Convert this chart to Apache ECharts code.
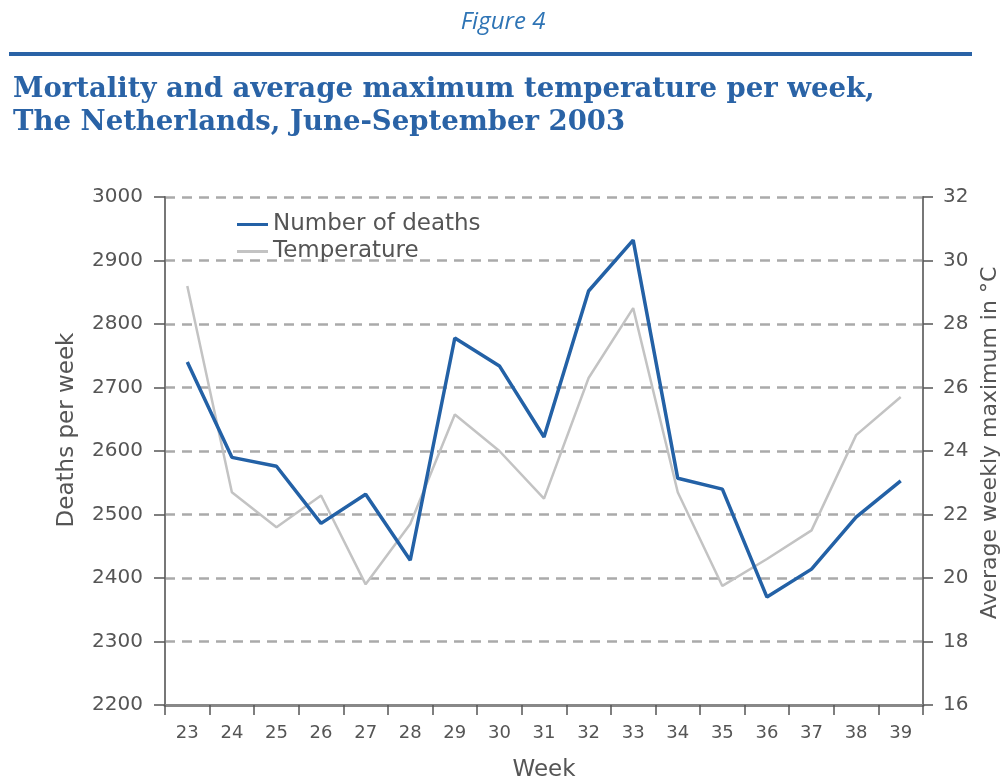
<!DOCTYPE html>
<html>
<head>
<meta charset="utf-8">
<script src="https://cdn.jsdelivr.net/npm/echarts@6/dist/echarts.min.js"></script>
<style>
html,body{margin:0;padding:0;background:#fff;}
#chart{width:1006px;height:782px;}
</style>
</head>
<body>
<div id="chart"></div>
<script>
const weeks = ['23','24','25','26','27','28','29','30','31','32','33','34','35','36','37','38','39'];
const deaths = [2740,2590,2576,2486,2532,2428,2778,2734,2622,2852,2932,2557,2540,2370,2414,2496,2553];
const temperature = [29.2,22.7,21.6,22.6,19.8,21.7,25.15,24.0,22.5,26.3,28.5,22.7,19.75,20.6,21.5,24.5,25.7];
const deathTicks = [2200,2300,2400,2500,2600,2700,2800,2900,3000];
const tempTicks = [16,18,20,22,24,26,28,30,32];

const axisFont = '"DejaVu Sans", sans-serif';
const chart = echarts.init(document.getElementById('chart'), null, {renderer:'canvas'});
chart.setOption({
  backgroundColor:'#fff',
  animation:false,
  title:[
    {text:'Figure 4', left:'center', top:5,
     textStyle:{fontFamily:'"Open Sans", sans-serif', fontStyle:'italic', fontWeight:'normal', fontSize:24, color:'#2e74b5'}},
    {text:'Mortality and average maximum temperature per week,\nThe Netherlands, June-September 2003', left:8, top:68,
     textStyle:{fontFamily:'"DejaVu Serif", serif', fontWeight:'bold', fontSize:27.5, lineHeight:33, color:'#2a63a6'}}
  ],
  graphic:[
    {type:'rect', shape:{x:9, y:52, width:963, height:4}, style:{fill:'#2a63a6'}}
  ],
  legend:{
    orient:'vertical', left:232, top:208, itemWidth:31, itemHeight:3, itemGap:4,
    icon:'rect',
    textStyle:{fontFamily:axisFont, fontSize:23, color:'#555'},
    data:[
      {name:'Number of deaths', itemStyle:{color:'#2361a6'}},
      {name:'Temperature', itemStyle:{color:'#c3c3c3'}}
    ]
  },
  grid:{left:165, right:83, top:197, bottom:77, containLabel:false, outerBoundsMode:'none'},
  xAxis:{
    type:'category', data:weeks, boundaryGap:true,
    name:'Week', nameLocation:'middle', nameGap:54,
    nameTextStyle:{fontFamily:axisFont, fontSize:23, color:'#555'},
    axisLine:{lineStyle:{color:'#888', width:3}},
    axisTick:{show:true, length:10, lineStyle:{color:'#555', width:1.5}},
    axisLabel:{fontFamily:axisFont, fontSize:18, color:'#555', margin:19}
  },
  yAxis:[
    {type:'value', min:deathTicks[0], max:deathTicks[deathTicks.length-1], interval:100,
     name:'Deaths per week', nameLocation:'middle', nameGap:86, nameRotate:90,
     nameTextStyle:{fontFamily:axisFont, fontSize:23, color:'#555', padding:[0,0,0,42]},
     axisLine:{show:true, lineStyle:{color:'#777', width:2}},
     axisTick:{show:true, length:11, lineStyle:{color:'#555', width:1.5}},
     axisLabel:{fontFamily:axisFont, fontSize:20, color:'#555', margin:22, formatter:v=>String(v)},
     splitLine:{show:true, lineStyle:{color:'#aaa', width:2.5, type:[10,7]}}
    },
    {type:'value', min:tempTicks[0], max:tempTicks[tempTicks.length-1], interval:2, position:'right',
     name:'Average weekly maximum in °C', nameLocation:'middle', nameGap:52, nameRotate:90,
     nameTextStyle:{fontFamily:axisFont, fontSize:22, color:'#555', padding:[0,0,0,16]},
     axisLine:{show:true, lineStyle:{color:'#777', width:2}},
     axisTick:{show:true, length:10, lineStyle:{color:'#555', width:1.5}},
     axisLabel:{fontFamily:axisFont, fontSize:20, color:'#555', margin:20},
     splitLine:{show:false}
    }
  ],
  series:[
    {name:'Temperature', type:'line', yAxisIndex:1, data:temperature, symbol:'none',
     lineStyle:{color:'#c3c3c3', width:2.5}, itemStyle:{color:'#c3c3c3'}, z:2},
    {name:'Number of deaths', type:'line', yAxisIndex:0, data:deaths, symbol:'none',
     lineStyle:{color:'#2361a6', width:3.5}, itemStyle:{color:'#2361a6'}, z:3}
  ]
});
</script>
</body>
</html>
